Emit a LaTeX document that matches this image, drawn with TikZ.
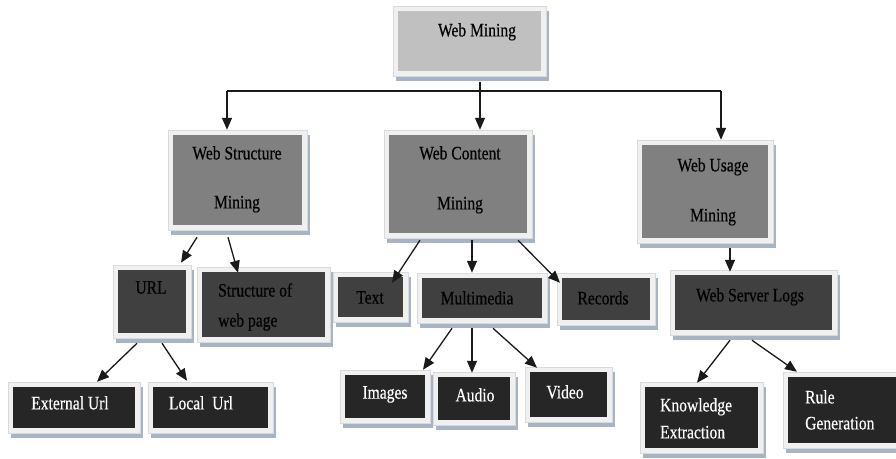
\documentclass[tikz,border=0pt]{standalone}
\usepackage{fontspec}
\setmainfont{Liberation Serif}[FakeStretch=0.82,FakeBold=0.4]
\usetikzlibrary{arrows.meta,shadows,fit,calc}
\definecolor{framec}{HTML}{F0F0F0}
\definecolor{framee}{HTML}{DADADA}
\definecolor{shadowc}{HTML}{A7B4C6}
\definecolor{lvA}{HTML}{C0C0C0}
\definecolor{lvB}{HTML}{808080}
\definecolor{lvC}{HTML}{404040}
\definecolor{lvD}{HTML}{262626}
\definecolor{linec}{HTML}{1A1A1A}
\tikzset{
  box/.style={rectangle, inner sep=0pt, fill=framec, draw=framee, line width=0.5pt,
    drop shadow={shadow xshift=3pt, shadow yshift=-5pt, fill=shadowc, opacity=1},
    path picture={\fill[#1] ([shift={(5pt,5pt)}]path picture bounding box.south west)
      rectangle ([shift={(-5pt,-5pt)}]path picture bounding box.north east);}},
  lbl/.style={inner sep=0pt, text=black, font=\fontsize{19}{22}\selectfont},
  wlbl/.style={lbl, text=white},
  ln/.style={draw=linec, line width=1.3pt},
  arr/.style={ln, -{Triangle[length=12pt,width=10pt]}}
}
\begin{document}
\begin{tikzpicture}[x=1pt,y=-1pt]
\useasboundingbox (0,0) rectangle (896,458);
\fill[white] (0,0) rectangle (896,458);

% boxes
\node[box=lvA, fit={(393,6)(546,76)}] (wm) {};
\node[box=lvB, fit={(168,130)(307,230)}] (wsm) {};
\node[box=lvB, fit={(384,130)(532,238)}] (wcm) {};
\node[box=lvB, fit={(637,140)(773,243)}] (wum) {};
\node[box=lvC, fit={(113,265)(191,338)}] (url) {};
\node[box=lvC, fit={(197,267)(330,342)}] (swp) {};
\node[box=lvC, fit={(333,272)(408,322)}] (tx) {};
\node[box=lvC, fit={(417,273)(547,323)}] (mm) {};
\node[box=lvC, fit={(557,273)(655,325)}] (rec) {};
\node[box=lvC, fit={(670,270)(837,335)}] (wsl) {};
\node[box=lvD, fit={(8,382)(140,433)}] (ext) {};
\node[box=lvD, fit={(148,382)(273,433)}] (loc) {};
\node[box=lvD, fit={(340,370)(430,423)}] (img) {};
\node[box=lvD, fit={(433,372)(515,425)}] (aud) {};
\node[box=lvD, fit={(525,367)(612,422)}] (vid) {};
\node[box=lvD, fit={(640,382)(763,453)}] (ke) {};
\node[box=lvD, fit={(783,372)(905,448)}] (rg) {};

% texts
\node[lbl, anchor=north] (wmT) at (477,23) {Web Mining};
\node[lbl, anchor=north, align=center, font=\fontsize{19}{49}\selectfont] (wsmT) at (237,146) {Web Structure\\Mining};
\node[lbl, anchor=north, align=center, font=\fontsize{19}{50}\selectfont] (wcmT) at (460,146) {Web Content\\Mining};
\node[lbl, anchor=north, align=center, font=\fontsize{19}{50}\selectfont] (wumT) at (713,158) {Web Usage\\Mining};
\node[lbl, anchor=north] (urlT) at (151,281) {URL};
\node[lbl, anchor=north west, align=left, font=\fontsize{19}{30}\selectfont] (swpT) at (218,283) {Structure of\\web page};
\node[lbl, anchor=north] (txT) at (370,291) {Text};
\node[lbl, anchor=north] (mmT) at (477,291) {Multimedia};
\node[lbl, anchor=north] (recT) at (603,291) {Records};
\node[lbl, anchor=north] (wslT) at (750,288) {Web Server Logs};
\node[wlbl, anchor=north] (extT) at (70,396) {External Url};
\node[wlbl, anchor=north] (locT) at (201,396) {Local\ \ Url};
\node[wlbl, anchor=north] (imgT) at (385,386) {Images};
\node[wlbl, anchor=north] (audT) at (475,388) {Audio};
\node[wlbl, anchor=north] (vidT) at (565,385) {Video};
\node[wlbl, anchor=north west, align=left, font=\fontsize{19}{27}\selectfont] (keT) at (660,398) {Knowledge\\Extraction};
\node[wlbl, anchor=north west, align=left, font=\fontsize{19}{26}\selectfont] (rgT) at (805,390) {Rule\\Generation};

% top connectors
\coordinate (j) at (480,91);
\coordinate (jl) at (227,91);
\coordinate (jr) at (721,91);
\draw[ln] ($(wm.south)+(10.5,6)$) -- (j);
\draw[ln] (jl) -- (jr);
\draw[arr] (jl) -- (jl |- wsm.north);
\draw[arr] (j) -- (j |- wcm.north);
\draw[arr] (jr) -- (jr |- wum.north);

% lower connectors
\draw[arr] ($(wsm.south)+(-40.5,7)$) -- ($(url.north)+(29,-2)$);
\draw[arr] ($(wsm.south)+(-9.5,7)$) -- ($(swp.north)+(-25.5,6)$);
\draw[arr] ($(wcm.south)+(-38,2)$) -- ($(tx.north)+(21.5,11)$);
\draw[arr] ($(wcm.south)+(14,2)$) -- ($(mm.north)+(-10,0)$);
\draw[arr] ($(wcm.south)+(60,2)$) -- ($(rec.north)+(-46,10)$);
\draw[arr] ($(wum.south)+(25,5)$) -- ($(wsl.north)+(-23.5,2)$);
\draw[arr] ($(url.south)+(-15,5)$) -- ($(ext.north)+(23,0)$);
\draw[arr] ($(url.south)+(10,5)$) -- ($(loc.north)+(-23.5,-1)$);
\draw[arr] ($(mm.south)+(-30,5)$) -- ($(img.north)+(38,0)$);
\draw[arr] ($(mm.south)+(-10,5)$) -- ($(aud.north)+(-2,1)$);
\draw[arr] ($(mm.south)+(11,5)$) -- ($(vid.north)+(-31.5,1)$);
\draw[arr] ($(wsl.south)+(-23.5,5)$) -- ($(ke.north)+(-4.5,1)$);
\draw[arr] ($(wsl.south)+(-1.5,5)$) -- ($(rg.north)+(-47,0)$);
\end{tikzpicture}
\end{document}
